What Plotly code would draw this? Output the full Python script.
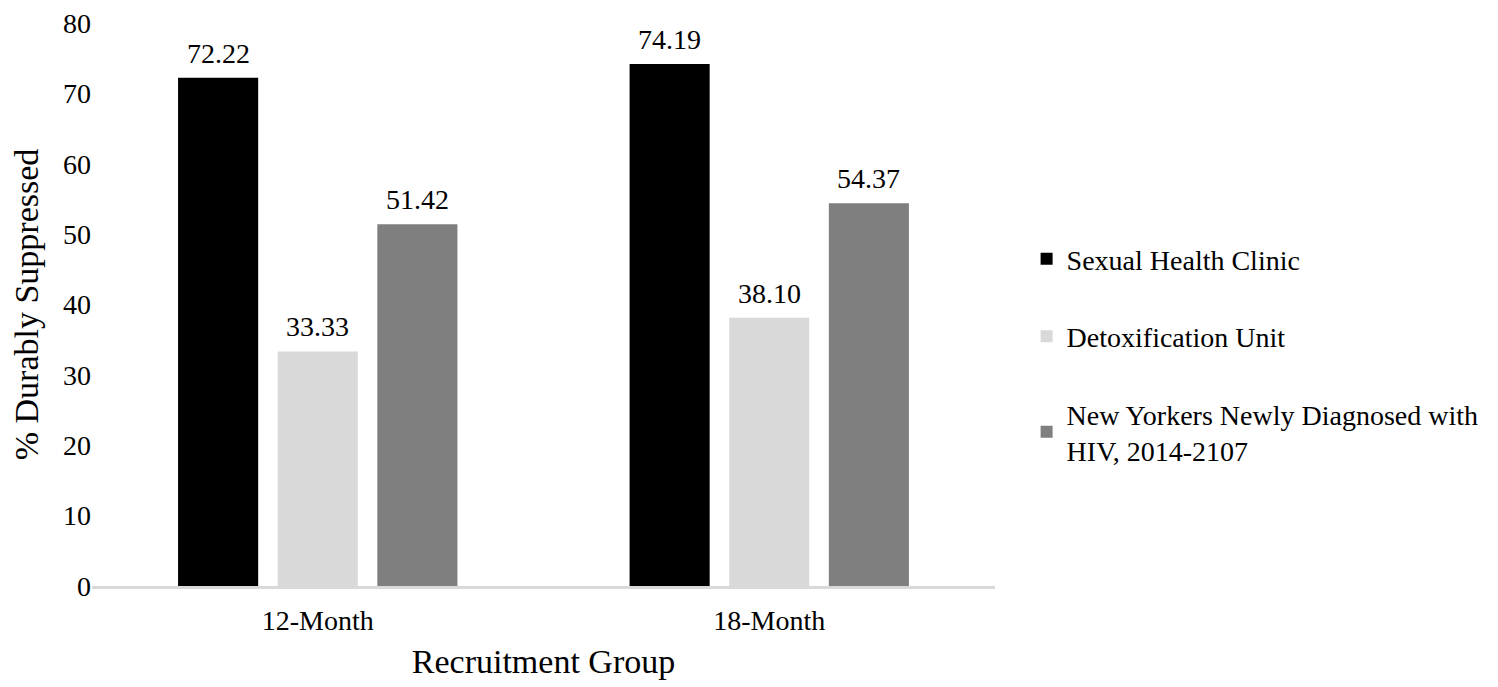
import plotly.graph_objects as go

# Data
groups = ["12-Month", "18-Month"]
series_names = [
    "Sexual Health Clinic",
    "Detoxification Unit",
    "New Yorkers Newly Diagnosed with<br>HIV, 2014-2107",
]
sexual_health = [72.22, 74.19]
detox_unit = [33.33, 38.10]
new_yorkers = [51.42, 54.37]
colors = ["#000000", "#d9d9d9", "#7f7f7f"]
y_ticks = [0, 10, 20, 30, 40, 50, 60, 70, 80]

font_family = "Liberation Serif"
bargap = 0.338
slot = (1 - bargap) / 3  # width of one bar slot, in category units

fig = go.Figure()
all_vals = [sexual_health, detox_unit, new_yorkers]
for i, (name, vals) in enumerate(zip(series_names, all_vals)):
    fig.add_trace(go.Bar(
        x=groups, y=vals, name=name,
        marker=dict(color=colors[i], line=dict(width=0)),
        legendgroup=f"g{i}",
    ))
    # value labels above the bars
    for j, v in enumerate(vals):
        fig.add_annotation(
            x=j + (i - 1) * slot, y=v, xref="x", yref="y",
            text=f"{v:.2f}", showarrow=False,
            yanchor="bottom", yshift=7,
            font=dict(size=28, color="black", family=font_family),
        )

fig.update_layout(
    width=1490, height=677,
    margin=dict(l=84, r=503, t=15, b=99, autoexpand=False),
    paper_bgcolor="white", plot_bgcolor="white",
    font=dict(family=font_family, size=28, color="black"),
    barmode="group",
    bargap=bargap,
    bargroupgap=0.196,
    showlegend=True,
    legend=dict(
        x=1.035, y=0.411, xanchor="left", yanchor="middle",
        font=dict(size=28, color="black", family=font_family),
        tracegroupgap=38,
        traceorder="grouped",
    ),
)
fig.update_xaxes(
    automargin=False,
    showline=True, linecolor="#d9d9d9", linewidth=3,
    showgrid=False, ticks="",
    ticklabelstandoff=7,
    tickfont=dict(size=28, family=font_family),
    title=dict(text="Recruitment Group", font=dict(size=34, family=font_family), standoff=15),
)
fig.update_yaxes(
    automargin=False,
    range=[0, 80], tickvals=y_ticks,
    showgrid=False, zeroline=False, showline=False, ticks="",
    ticklabeloverflow="allow",
    tickfont=dict(size=28, family=font_family),
    title=dict(text="% Durably Suppressed", font=dict(size=34, family=font_family), standoff=20),
)

fig.write_html("out.html")
